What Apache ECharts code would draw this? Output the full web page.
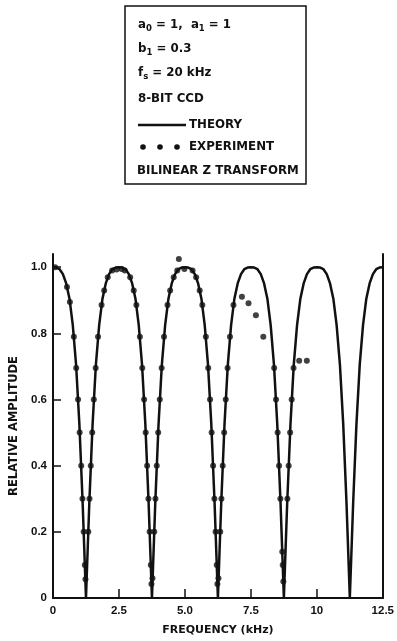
<!DOCTYPE html>
<html>
<head>
<meta charset="utf-8">
<script src="https://cdn.jsdelivr.net/npm/echarts@6/dist/echarts.min.js"></script>
<style>
  html, body { margin: 0; padding: 0; background: #fff; }
  #chart { width: 397px; height: 641px; }
</style>
</head>
<body>
<div id="chart"></div>
<script>
// theory curve (kHz, relative amplitude)
var theoryFreq = [0,0.125,0.25,0.375,0.5,0.625,0.75,0.875,1,1.125,1.25,1.375,1.5,1.625,1.75,1.875,2,2.125,2.25,2.375,2.5,
  2.625,2.75,2.875,3,3.125,3.25,3.375,3.5,3.625,3.75,3.875,4,4.125,4.25,4.375,4.5,4.625,4.75,4.875,5,
  5.125,5.25,5.375,5.5,5.625,5.75,5.875,6,6.125,6.25,6.375,6.5,6.625,6.75,6.875,7,7.125,7.25,7.375,7.5,
  7.625,7.75,7.875,8,8.125,8.25,8.375,8.5,8.625,8.75,8.875,9,9.125,9.25,9.375,9.5,9.625,9.75,9.875,10,
  10.125,10.25,10.375,10.5,10.625,10.75,10.875,11,11.125,11.25,11.375,11.5,11.625,11.75,11.875,12,12.125,12.25,12.375,12.5];
var theoryAmp = [1,
  0.999,0.994,0.979,0.951,0.905,0.825,0.705,0.525,0.285,0,0.285,0.525,0.705,0.825,0.905,0.951,0.979,0.994,0.999,1,
  0.999,0.994,0.979,0.951,0.905,0.825,0.705,0.525,0.285,0,0.285,0.525,0.705,0.825,0.905,0.951,0.979,0.994,0.999,1,
  0.999,0.994,0.979,0.951,0.905,0.825,0.705,0.525,0.285,0,0.285,0.525,0.705,0.825,0.905,0.951,0.979,0.994,0.999,1,
  0.999,0.994,0.979,0.951,0.905,0.825,0.705,0.525,0.285,0,0.285,0.525,0.705,0.825,0.905,0.951,0.979,0.994,0.999,1,
  0.999,0.994,0.979,0.951,0.905,0.825,0.705,0.525,0.285,0,0.285,0.525,0.705,0.825,0.905,0.951,0.979,0.994,0.999,1];

// measured points
var expFreq = [0.08,0.53,0.64,0.79,0.88,0.95,1.01,1.07,1.117,1.162,1.206,1.23,
  1.338,1.383,1.432,1.487,1.547,1.617,1.707,1.84,1.94,2.075,2.24,2.41,2.6,2.72,
  2.925,3.06,3.16,3.293,3.383,3.453,3.513,3.568,3.617,3.662,3.706,3.73,
  3.77,3.838,3.883,3.932,3.987,4.047,4.117,4.207,4.34,4.44,4.575,4.71,4.77,4.98,5.29,
  5.425,5.56,5.66,5.793,5.883,5.953,6.013,6.068,6.117,6.162,6.206,6.23,
  6.27,6.338,6.383,6.432,6.487,6.547,6.617,6.707,6.84,
  7.16,7.41,7.69,7.97,
  8.383,8.453,8.513,8.568,8.617,8.69,8.706,8.73,
  8.883,8.932,8.987,9.047,9.117,9.33,9.62];
var expAmp = [1.0,0.94,0.895,0.79,0.695,0.60,0.50,0.40,0.30,0.20,0.10,0.057,
  0.20,0.30,0.40,0.50,0.60,0.695,0.79,0.886,0.93,0.97,0.99,0.993,0.995,0.99,
  0.97,0.93,0.886,0.79,0.695,0.60,0.50,0.40,0.30,0.20,0.10,0.042,
  0.06,0.20,0.30,0.40,0.50,0.60,0.695,0.79,0.886,0.93,0.97,0.99,1.025,0.995,0.99,
  0.97,0.93,0.886,0.79,0.695,0.60,0.50,0.40,0.30,0.20,0.10,0.042,
  0.06,0.20,0.30,0.40,0.50,0.60,0.695,0.79,0.886,
  0.911,0.891,0.855,0.79,
  0.695,0.60,0.50,0.40,0.30,0.14,0.10,0.05,
  0.30,0.40,0.50,0.60,0.695,0.717,0.717];

var xTickValues = [0, 2.5, 5, 7.5, 10, 12.5];
var xTickLabels = ['0', '2.5', '5.0', '7.5', '10', '12.5'];
var yTickValues = [0, 0.2, 0.4, 0.6, 0.8, 1.0];
var yTickLabels = ['0', '0.2', '0.4', '0.6', '0.8', '1.0'];

var legendLines = ['a{s|0} = 1,  a{s|1} = 1', 'b{s|1} = 0.3', 'f{s|s} = 20 kHz', '8-BIT CCD'];

var labelFont = 'Liberation Sans';
var boxFont = 'DejaVu Sans';

var chart = echarts.init(document.getElementById('chart'));

var theoryData = [];
for (var i = 0; i < theoryFreq.length; i++) theoryData.push([theoryFreq[i], theoryAmp[i]]);
var expData = [];
for (var j = 0; j < expFreq.length; j++) expData.push([expFreq[j], expAmp[j]]);

var txt = { fontFamily: boxFont, fontWeight: 'bold', fontSize: 11.8, fill: '#111' };
var subRich = { s: { fontFamily: boxFont, fontWeight: 'bold', fontSize: 8.5, padding: [7, 0, 0, 0] } };

var graphics = [
  { type: 'rect', shape: { x: 125, y: 6, width: 181, height: 178 },
    style: { fill: 'none', stroke: '#111', lineWidth: 1.5 } }
];
var lineY = [25, 49, 73, 99];
legendLines.forEach(function (t, k) {
  graphics.push({ type: 'text', x: 138, y: lineY[k],
    style: Object.assign({ text: t, rich: subRich, verticalAlign: 'middle' }, txt) });
});
graphics.push({ type: 'line', shape: { x1: 138, y1: 125, x2: 186, y2: 125 },
  style: { stroke: '#111', lineWidth: 2.4 } });
graphics.push({ type: 'text', x: 189, y: 125, style: Object.assign({ text: 'THEORY', verticalAlign: 'middle' }, txt) });
[143, 160, 177].forEach(function (cx) {
  graphics.push({ type: 'circle', shape: { cx: cx, cy: 147, r: 2.8 }, style: { fill: '#111' } });
});
graphics.push({ type: 'text', x: 189, y: 147, style: Object.assign({ text: 'EXPERIMENT', verticalAlign: 'middle' }, txt) });
graphics.push({ type: 'text', x: 137, y: 171, style: Object.assign({ text: 'BILINEAR Z TRANSFORM', verticalAlign: 'middle' }, txt) });

chart.setOption({
  animation: false,
  backgroundColor: '#fff',
  grid: { left: 53, right: 11, top: 254, bottom: 42 },
  xAxis: {
    type: 'value', min: 0, max: 12.5, interval: 2.5,
    name: 'FREQUENCY (kHz)', nameLocation: 'middle', nameGap: 27,
    nameTextStyle: { fontFamily: boxFont, fontWeight: 'bold', fontSize: 11, color: '#111' },
    axisLine: { lineStyle: { color: '#111', width: 2 } },
    axisTick: { inside: true, length: 9, customValues: [2.5, 5, 7.5, 10], lineStyle: { color: '#111', width: 1.5 } },
    axisLabel: {
      customValues: xTickValues, margin: 7, color: '#111',
      fontFamily: labelFont, fontWeight: 'bold', fontSize: 11.5,
      formatter: function (v) { return xTickLabels[Math.round(v / 2.5)]; }
    },
    splitLine: { show: false }
  },
  yAxis: [{
    type: 'value', min: 0, max: 1.04, interval: 0.2,
    name: 'RELATIVE AMPLITUDE', nameLocation: 'middle', nameGap: 30,
    nameTextStyle: { fontFamily: boxFont, fontWeight: 'bold', fontSize: 11.5, color: '#111' },
    axisLine: { show: true, lineStyle: { color: '#111', width: 2 } },
    axisTick: { show: true, inside: true, length: 8, customValues: [0.2, 0.4, 0.6, 0.8, 1.0], lineStyle: { color: '#111', width: 1.5 } },
    axisLabel: {
      customValues: yTickValues, margin: 6, color: '#111',
      fontFamily: labelFont, fontWeight: 'bold', fontSize: 11.5,
      formatter: function (v) { return yTickLabels[Math.round(v / 0.2)]; }
    },
    splitLine: { show: false }
  }, {
    type: 'value', min: 0, max: 1.04, position: 'right',
    axisLine: { show: true, lineStyle: { color: '#111', width: 2 } },
    axisTick: { show: false }, axisLabel: { show: false }, splitLine: { show: false }
  }],
  graphic: graphics,
  series: [{
    name: 'THEORY', type: 'line', data: theoryData, showSymbol: false, smooth: false,
    lineStyle: { color: '#111', width: 2.5 }, z: 2
  }, {
    name: 'EXPERIMENT', type: 'scatter', data: expData, symbolSize: 6,
    itemStyle: { color: '#111' }, z: 3
  }]
});
</script>
</body>
</html>
